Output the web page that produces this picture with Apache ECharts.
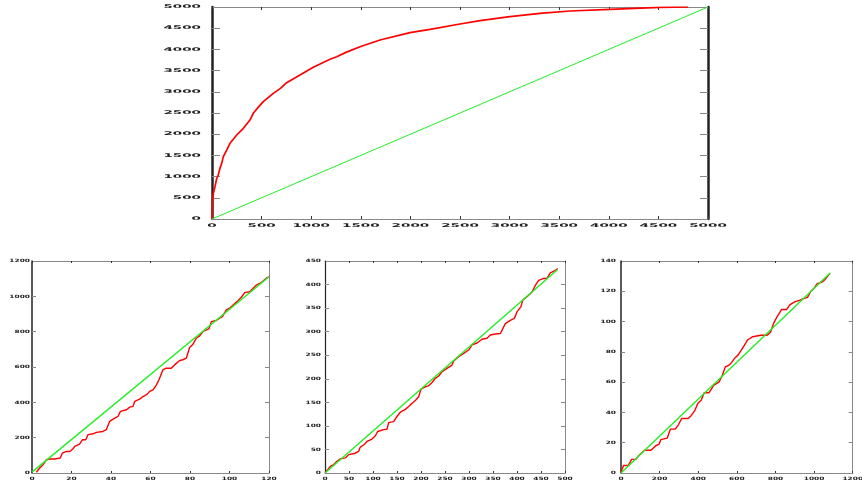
<!DOCTYPE html>
<html><head><meta charset="utf-8">
<script src="https://cdn.jsdelivr.net/npm/echarts@6/dist/echarts.min.js"></script>
<style>html,body{margin:0;padding:0;background:#fff}#c{width:862px;height:481px}</style>
</head><body><div id="c"></div>
<script>
// ---- data ----
const topRed = [[0,0],[2,200],[5,450],[15,620],[30,762],[47,950],[64,1050],[81,1200],[98,1313],[114,1470],[148,1627],[181,1785],[215,1880],[249,1981],[316,2139],[383,2335],[416,2493],[460,2620],[517,2768],[618,2964],[690,3080],[752,3215],[887,3396],[1021,3577],[1190,3767],[1257,3828],[1350,3930],[1492,4064],[1694,4222],[1996,4394],[2198,4474],[2500,4599],[2702,4677],[3004,4772],[3306,4851],[3609,4906],[4012,4945],[4516,4993],[4800,5000]];
const topGreen = [[0,0],[5000,5000]];

const b1Red = [[2.2,4],[3.9,28],[5.6,47],[7.3,75],[9.0,79],[11.5,79],[14.3,85],[15.4,113],[17.4,122],[19.1,122],[20.8,137],[21.6,151],[24.1,164],[25.5,188],[27.2,188],[28.4,217],[30.9,222],[32.6,230],[35.9,235],[37.6,245],[39.3,292],[41.9,311],[43.5,320],[44.8,349],[47.8,358],[49.5,373],[51.1,377],[52.0,405],[54.5,418],[56.2,433],[58.0,443],[59.6,462],[61.3,471],[63.0,499],[64.3,528],[66.3,584],[67.9,593],[70.5,593],[72.2,612],[74.8,637],[76.4,641],[78.1,650],[79.8,710],[81.5,729],[83.2,763],[84.9,776],[86.6,801],[88.3,810],[89.6,816],[90.8,857],[93.3,863],[95.0,876],[96.4,885],[98.4,923],[100.1,933],[101.8,951],[103.8,970],[106.0,995],[107.7,1021],[110.2,1026],[112.0,1046],[113.6,1064],[116.1,1078],[118.6,1102],[120,1111]];
const b1Green = [[0,5],[120,1111]];

const b2Red = [[0,1],[5.6,7],[11.1,14],[18.1,18],[25,25],[31.9,30],[42.4,32],[49.3,39],[63.2,42],[70.1,46],[73.6,55],[81.2,60],[87.5,67],[97.9,72],[104.9,79],[109.7,88],[122.2,92],[129.2,93],[132.6,107],[143,109],[150,120],[156.9,129],[167.4,135],[174.3,141],[181.3,148],[188.2,154],[195.1,162],[200,178],[209,183],[215.8,185],[222.9,192],[229.9,201],[236.8,206],[243.8,215],[254.2,222],[264.6,229],[268,238],[278.5,247],[288.9,254],[299.3,261],[306.3,272],[316.7,276],[327.1,284],[337.5,286],[344.4,293],[354.9,295],[365.3,296],[375.7,317],[386.1,324],[394.4,328],[400,342],[408.3,353],[411.8,367],[420.8,374],[431.3,384],[438.2,398],[445.1,409],[455.6,413],[462.5,413],[469.4,425],[479.9,430],[484.7,434]];
const b2Green = [[0,0],[484.7,432]];

const b3Red = [[0,0.4],[13,5],[38,5],[55,9],[77,9],[89,11],[105,13],[122,15],[155,15],[180,18],[197,19],[206,22],[239,23],[256,29],[281,29],[298,32],[314,36],[348,36],[364,38],[381,41],[398,46],[415,48],[431,53],[456,53],[481,58],[507,60],[523,64],[540,70],[557,71],[573,73],[590,76],[607,78],[632,83],[657,88],[682,90],[724,91],[757,91],[774,93],[791,99],[807,103],[832,108],[858,108],[874,111],[899,113],[924,114],[941,115],[966,116],[983,120],[1000,122],[1016,125],[1041,126],[1058,128],[1083,132]];
const b3Green = [[0,0],[1083,132]];

// axis ranges: [min, max, interval]
const topX = [0,5000,500], topY = [0,5000,500];
const b1X = [0,120,20], b1Y = [0,1200,200];
const b2X = [0,500,50], b2Y = [0,450,50];
const b3X = [0,1200,200], b3Y = [0,140,20];

// ---- horizontally stretched label rendering (mimics the reference's wide, flat glyphs) ----
(function(){
  const P = CanvasRenderingContext2D.prototype, of = P.fillText;
  P.fillText = function(t, x, y, mw){
    const m = /gpw(\d+)/.exec(this.font);
    if (!m) return of.call(this, t, x, y, mw);
    const sx = +m[1] / 100;
    this.save(); this.translate(x, y); this.scale(sx, 1);
    of.call(this, t, 0, 0);
    this.restore();
  };
})();

const panels = [
  {grid:{left:212,top:7,width:496,height:212}, x:topX, y:topY, red:topRed, green:topGreen,
   fam:'gpw270, "DejaVu Sans"', fs:5, ytl:8, xtl:3, yw:2.5, yMargin:11, xMargin:4, redW:1.7, greenW:1},
  {grid:{left:32,top:261,width:237,height:212}, x:b1X, y:b1Y, red:b1Red, green:b1Green,
   fam:'gpw165, "DejaVu Sans"', fs:4.5, ytl:4, xtl:2, yw:1.5, yMargin:2, xMargin:3, redW:1.4, greenW:1.4},
  {grid:{left:325,top:261,width:240,height:212}, x:b2X, y:b2Y, red:b2Red, green:b2Green,
   fam:'gpw165, "DejaVu Sans"', fs:4.5, ytl:4, xtl:2, yw:1.2, yMargin:4, xMargin:3, redW:1.4, greenW:1.4},
  {grid:{left:621,top:261,width:239,height:212}, x:b3X, y:b3Y, red:b3Red, green:b3Green,
   fam:'gpw165, "DejaVu Sans"', fs:4.5, ytl:4, xtl:2, yw:1.5, yMargin:5, xMargin:3, redW:1.4, greenW:1.4}
];

const fmt = v => String(v);
const option = {animation:false, backgroundColor:'#fff', grid:[], xAxis:[], yAxis:[], series:[]};
panels.forEach((p, i) => {
  option.grid.push(Object.assign({containLabel:false}, p.grid));
  const lab = (m) => ({show:true, fontFamily:p.fam, fontSize:p.fs, fontWeight:'bold', color:'#222', margin:m,
                       formatter:fmt, showMaxLabel:true, showMinLabel:true});
  const xi = option.xAxis.length, yi = option.yAxis.length;
  ['bottom','top'].forEach((pos, k) => option.xAxis.push({
    type:'value', gridIndex:i, position:pos, min:p.x[0], max:p.x[1], interval:p.x[2],
    axisLine:{show:true, onZero:false, lineStyle:{color:'#888', width:1}},
    axisTick:{show:true, inside:true, length:p.xtl, lineStyle:{color:'#333', width:1}},
    axisLabel: k===0 ? lab(p.xMargin) : {show:false},
    splitLine:{show:false}
  }));
  ['left','right'].forEach((pos, k) => option.yAxis.push({
    type:'value', gridIndex:i, position:pos, min:p.y[0], max:p.y[1], interval:p.y[2],
    axisLine:{show:true, onZero:false, lineStyle:{color:(i===0||k===0)?'#222':'#888', width:(i===0||k===0)?p.yw:1}},
    axisTick:{show:true, inside:true, length:p.ytl, lineStyle:{color:'#888', width:1}},
    axisLabel: k===0 ? lab(p.yMargin) : {show:false},
    splitLine:{show:false}
  }));
  option.series.push({type:'line', xAxisIndex:xi, yAxisIndex:yi, data:p.red, symbol:'none',
    lineStyle:{color:'#ff0000', width:p.redW}, z:3});
  option.series.push({type:'line', xAxisIndex:xi, yAxisIndex:yi, data:p.green, symbol:'none',
    lineStyle:{color:'#22ee22', width:p.greenW}, z:4});
});

const chart = echarts.init(document.getElementById('c'), null, {renderer:'canvas'});
chart.setOption(option);
</script></body></html>
